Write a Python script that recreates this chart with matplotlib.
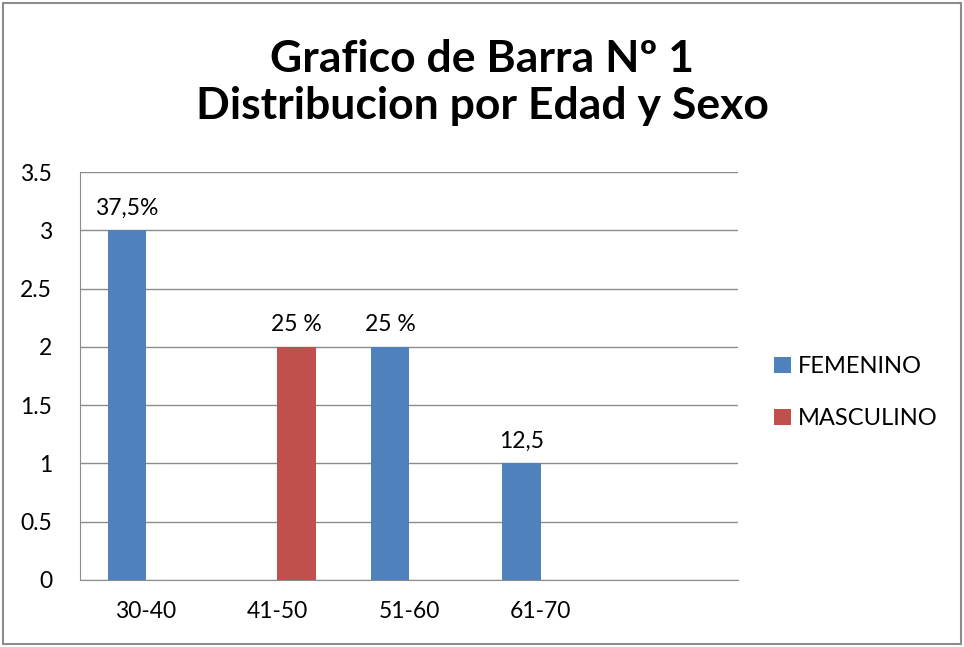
import numpy as np
import matplotlib.pyplot as plt
from matplotlib.patches import Rectangle

# Data
categories = ["30-40", "41-50", "51-60", "61-70", ""]
femenino = [3, 0, 2, 1, 0]
masculino = [0, 2, 0, 0, 0]
labels_fem = ["37,5%", "", "25 %", "12,5", ""]
labels_mas = ["", "25 %", "", "", ""]
yticks = [0, 0.5, 1, 1.5, 2, 2.5, 3, 3.5]
ytick_labels = ["0", "0.5", "1", "1.5", "2", "2.5", "3", "3.5"]

blue = "#4F81BD"
red = "#C0504D"

plt.rcParams['font.family'] = ['Lato', 'DejaVu Sans']

fig = plt.figure(figsize=(9.64, 6.47), dpi=100)
ax = fig.add_axes([0.083, 0.1036, 0.6826, 0.6304])

x = np.arange(len(categories))
w = 0.29
bf = ax.bar(x - w/2, femenino, w, color=blue, label="FEMENINO", zorder=3)
bm = ax.bar(x + w/2, masculino, w, color=red, label="MASCULINO", zorder=3)

for i in range(len(categories)):
    if labels_fem[i]:
        ax.text(x[i] - w/2, femenino[i] + 0.1, labels_fem[i], ha="center", va="bottom", fontsize=16.5)
    if labels_mas[i]:
        ax.text(x[i] + w/2, masculino[i] + 0.1, labels_mas[i], ha="center", va="bottom", fontsize=16.5)

ax.set_xlim(-0.5, len(categories) - 0.5)
ax.set_ylim(0, 3.5)
ax.set_yticks(yticks)
ax.set_yticklabels(ytick_labels, fontsize=16.5)
ax.set_xticks(x)
ax.set_xticklabels(categories, fontsize=16.5)
ax.tick_params(axis="both", length=0)
ax.tick_params(axis="y", pad=20)
ax.tick_params(axis="x", pad=15)
ax.grid(axis="y", color="#8c8c8c", linewidth=1, zorder=0)

for side in ["top", "right"]:
    ax.spines[side].set_visible(False)
ax.spines["left"].set_color("#8c8c8c")
ax.spines["bottom"].set_color("#8c8c8c")

fig.text(0.5, 0.8725, "Grafico de Barra Nº 1\nDistribucion por Edad y Sexo",
         ha="center", va="center", fontsize=32, fontweight="bold", linespacing=1.2)

fig.legend(handles=[bf, bm], loc="center left", bbox_to_anchor=(0.803, 0.393),
           frameon=False, fontsize=17, handlelength=0.7, handleheight=0.7,
           handletextpad=0.3, labelspacing=1.3, borderaxespad=0, borderpad=0)

fig.patches.append(Rectangle((0.003, 0.004), 0.994, 0.992, transform=fig.transFigure,
                             fill=False, edgecolor="#8c8c8c", linewidth=1.5))

plt.savefig("out.png", dpi=100)
